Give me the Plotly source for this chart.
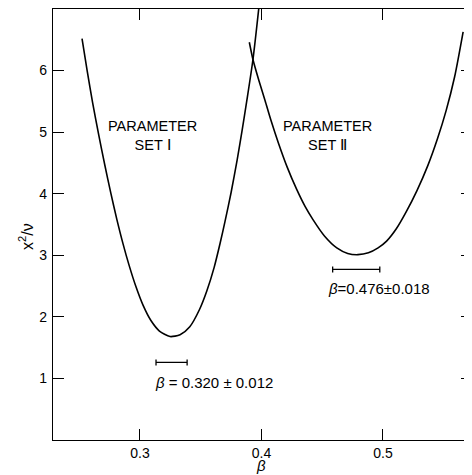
import plotly.graph_objects as go

# Parameter set I curve (beta, chi^2/nu)
beta_set1 = [0.2523, 0.2565, 0.261, 0.266, 0.271, 0.276, 0.281, 0.286, 0.291, 0.2965,
             0.3025, 0.309, 0.316, 0.3247, 0.333, 0.341, 0.349, 0.355, 0.361, 0.366,
             0.370, 0.375, 0.380, 0.384, 0.388, 0.393, 0.398]
chi_set1 = [6.52, 6.00, 5.48, 4.96, 4.47, 4.01, 3.58, 3.19, 2.84, 2.50,
            2.19, 1.94, 1.77, 1.68, 1.71, 1.84, 2.12, 2.42, 2.80, 3.20,
            3.55, 4.02, 4.55, 5.02, 5.52, 6.18, 7.05]

# Parameter set II curve
beta_set2 = [0.390, 0.393, 0.398, 0.403, 0.408, 0.414, 0.421, 0.429, 0.436, 0.4424,
             0.452, 0.462, 0.471, 0.4794, 0.488, 0.496, 0.503, 0.511, 0.519, 0.528,
             0.537, 0.545, 0.552, 0.559, 0.566]
chi_set2 = [6.46, 6.18, 5.83, 5.51, 5.18, 4.82, 4.44, 4.07, 3.79, 3.58,
            3.31, 3.12, 3.03, 3.01, 3.04, 3.12, 3.23, 3.43, 3.70, 4.05,
            4.46, 4.90, 5.35, 5.9, 6.63]

# Best-fit error bars (as drawn)
bar_centers = [0.326, 0.478]
bar_halfwidths = [0.0128, 0.0194]
bar_levels = [1.26, 2.77]

labels_set = ["PARAMETER<br>SET Ⅰ", "PARAMETER<br>SET Ⅱ"]
labels_set_pos = [(0.3099, 4.94), (0.4547, 4.94)]
labels_fit = ["<i>β</i> = 0.320 ± 0.012", "<i>β</i>=0.476±0.018"]
labels_fit_pos = [(0.3609, 0.935), (0.4964, 2.46)]

x_ticks = [0.3, 0.4, 0.5]
x_ticklabels = ["0.3", "0.4", "0.5"]
y_ticks = [1, 2, 3, 4, 5, 6]

FONT = "Liberation Sans, Arial, Helvetica, sans-serif"

fig = go.Figure()
fig.add_trace(go.Scatter(x=beta_set1, y=chi_set1, mode="lines",
                         line=dict(color="black", width=1.6, shape="spline", smoothing=0.7),
                         showlegend=False))
fig.add_trace(go.Scatter(x=beta_set2, y=chi_set2, mode="lines",
                         line=dict(color="black", width=1.6, shape="spline", smoothing=0.7),
                         showlegend=False))
fig.add_trace(go.Scatter(
    x=bar_centers, y=bar_levels, mode="markers",
    marker=dict(size=1, color="rgba(0,0,0,0)"),
    error_x=dict(type="data", array=bar_halfwidths, visible=True, color="black", thickness=1.3, width=3),
    showlegend=False, hoverinfo="skip"))

for txt, (xx, yy) in zip(labels_set, labels_set_pos):
    fig.add_annotation(x=xx, y=yy, text=txt, showarrow=False, xanchor="center", yanchor="middle",
                       font=dict(family=FONT, size=14.5, color="black"), align="center")
for txt, (xx, yy) in zip(labels_fit, labels_fit_pos):
    fig.add_annotation(x=xx, y=yy, text=txt, showarrow=False, xanchor="center", yanchor="middle",
                       font=dict(family=FONT, size=15, color="black"))

fig.add_annotation(x=-0.064, y=3.3, xref="paper", yref="y", text="x<sup>2</sup>/ν", textangle=-90,
                   showarrow=False, xanchor="center", yanchor="middle",
                   font=dict(family=FONT, size=16, color="black"))
fig.add_annotation(x=0.4, y=-0.0812, xref="x", yref="paper", text="<i>β</i>", showarrow=False,
                   xanchor="center", yanchor="bottom", borderpad=0,
                   font=dict(family=FONT, size=15, color="black"))

fig.update_xaxes(range=[0.2284, 0.5733], tickvals=x_ticks, ticktext=x_ticklabels,
                 ticks="inside", ticklen=11, tickwidth=1.3, tickcolor="black",
                 showline=True, linecolor="black", linewidth=1.4, mirror="ticks",
                 showgrid=False, zeroline=False, ticklabelstandoff=0,
                 tickfont=dict(family=FONT, size=14, color="black"))
fig.update_yaxes(range=[0, 7], tickvals=y_ticks,
                 ticks="inside", ticklen=11, tickwidth=1.3, tickcolor="black",
                 showline=True, linecolor="black", linewidth=1.4, mirror="ticks",
                 showgrid=False, zeroline=False, ticklabelstandoff=2,
                 tickfont=dict(family=FONT, size=14, color="black"))

# page body has an 8px margin, so the figure is sized/offset to fill the 472x475 window
fig.update_layout(width=464, height=467, margin=dict(l=45, r=0, t=1, b=35),
                  plot_bgcolor="white", paper_bgcolor="white", showlegend=False)

fig.write_html("out.html")
